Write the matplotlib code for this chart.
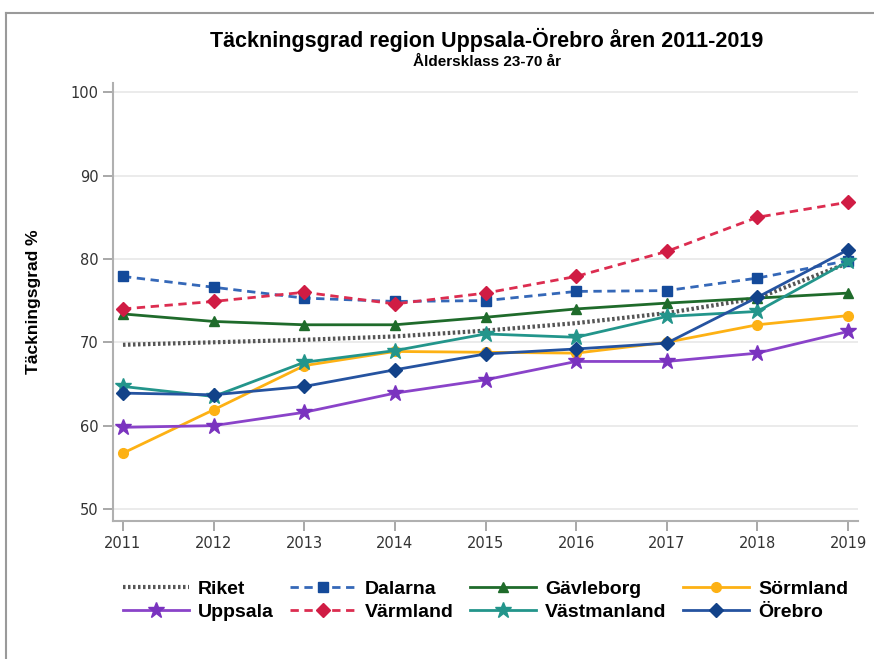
import matplotlib.pyplot as plt
from matplotlib.lines import Line2D

years = [2011, 2012, 2013, 2014, 2015, 2016, 2017, 2018, 2019]

riket = [69.7, 70.0, 70.3, 70.7, 71.4, 72.3, 73.5, 75.3, 79.5]
dalarna = [77.9, 76.6, 75.3, 74.9, 75.0, 76.1, 76.2, 77.7, 79.8]
gavleborg = [73.4, 72.5, 72.1, 72.1, 73.0, 74.0, 74.7, 75.3, 75.9]
sormland = [56.7, 61.9, 67.2, 68.9, 68.8, 68.7, 70.0, 72.1, 73.2]
uppsala = [59.8, 60.0, 61.6, 63.9, 65.5, 67.7, 67.7, 68.7, 71.3]
varmland = [74.0, 74.9, 76.0, 74.6, 75.9, 77.9, 80.9, 85.0, 86.8]
vastmanland = [64.7, 63.5, 67.6, 69.0, 71.0, 70.6, 73.1, 73.7, 79.7]
orebro = [63.9, 63.7, 64.7, 66.7, 68.6, 69.2, 69.9, 75.4, 81.1]

fig = plt.figure(figsize=(8.74, 6.59), dpi=100)
ax = fig.add_axes([0.1293, 0.2094, 0.8524, 0.6646])

# outer frame (top + left)
fig.add_artist(Line2D([6 / 874, 1], [1 - 13 / 659, 1 - 13 / 659], color='#9a9a9a', lw=1.5))
fig.add_artist(Line2D([6 / 874, 6 / 874], [0, 1 - 13 / 659], color='#9a9a9a', lw=1.5))

dash = (0, (3, 2))
ax.plot(years, riket, color='#555555', lw=3, ls=(0, (0.6, 0.6)), label='Riket')
ax.plot(years, dalarna, color='#3568b8', lw=2, ls=dash, marker='s', ms=7,
        mfc='#144a9a', mec='#144a9a', label='Dalarna')
ax.plot(years, gavleborg, color='#1f6b2b', lw=2, marker='^', ms=7, label='Gävleborg')
ax.plot(years, sormland, color='#fdb114', lw=2, marker='o', ms=7, label='Sörmland')
ax.plot(years, uppsala, color='#8a43c9', lw=2, marker='*', ms=12,
        mfc='#7a33bf', mec='#7a33bf', label='Uppsala')
ax.plot(years, varmland, color='#dc2d50', lw=2, ls=dash, marker='D', ms=7,
        mfc='#d01c44', mec='#d01c44', label='Värmland')
ax.plot(years, vastmanland, color='#23958b', lw=2, marker='*', ms=12, label='Västmanland')
ax.plot(years, orebro, color='#2553a0', lw=2, marker='D', ms=7,
        mfc='#124289', mec='#124289', label='Örebro')

ax.set_xlim(2010.89, 2019.11)
ax.set_ylim(48.56, 101.1)
ax.set_xticks(years)
ax.set_yticks([50, 60, 70, 80, 90, 100])
ax.grid(axis='y', color='#e8e8e8', lw=1.2)
ax.set_axisbelow(True)
for s in ['top', 'right']:
    ax.spines[s].set_visible(False)
for s in ['left', 'bottom']:
    ax.spines[s].set_color('#b0b0b0')
    ax.spines[s].set_linewidth(1.5)
ax.tick_params(axis='both', colors='#9a9a9a', length=7, width=1.2,
               labelcolor='#333333', labelsize=10.5)

ax.set_ylabel('Täckningsgrad %', fontsize=12.5, fontweight='bold', labelpad=21,
              family=['Liberation Sans', 'DejaVu Sans'])

fig.text(487 / 874, 1 - 40 / 659, 'Täckningsgrad region Uppsala-Örebro åren 2011-2019',
         ha='center', va='center', fontsize=15.5, fontweight='bold',
         family=['Liberation Sans', 'DejaVu Sans'])
fig.text(487 / 874, 1 - 62 / 659, 'Åldersklass 23-70 år',
         ha='center', va='center', fontsize=11, fontweight='bold',
         family=['Liberation Sans', 'DejaVu Sans'])

handles, labels = ax.get_legend_handles_labels()
# matplotlib fills legend column-wise; reorder so rows read as in the picture
order = [0, 4, 1, 5, 2, 6, 3, 7]
ax.legend([handles[i] for i in order], [labels[i] for i in order],
          ncol=4, loc='upper center', bbox_to_anchor=(0.5, -0.095),
          frameon=False, handlelength=3.4, columnspacing=0.85, handletextpad=0.45,
          labelspacing=0.3,
          prop={'family': ['Liberation Sans', 'DejaVu Sans'],
                'weight': 'bold', 'size': 14})

fig.savefig('out.png', dpi=100)
